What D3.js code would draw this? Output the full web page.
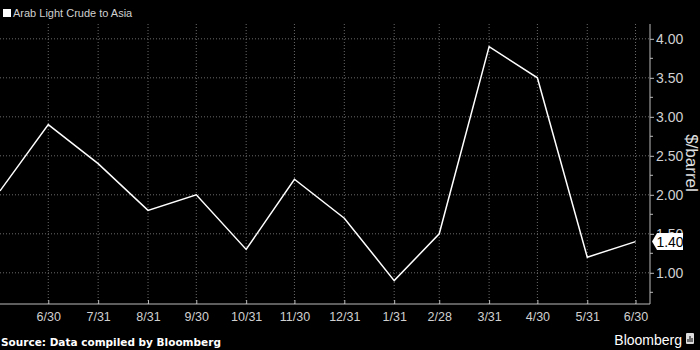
<!DOCTYPE html>
<html>
<head>
<meta charset="utf-8">
<script src="https://cdn.jsdelivr.net/npm/d3@7"></script>
<style>
  body { margin: 0; background: #000; }
  svg { display: block; background: #000; }
</style>
</head>
<body>
<div id="chart"></div>
<script>
// Arab Light crude OSP to Asia, monthly

const dates = ["2017-05-31", "2017-06-30", "2017-07-31", "2017-08-31", "2017-09-30", "2017-10-31",
    "2017-11-30", "2017-12-31", "2018-01-31", "2018-02-28", "2018-03-31", "2018-04-30",
    "2018-05-31", "2018-06-30"];
const prices = [2.05, 2.90, 2.40, 1.80, 2.00, 1.30, 2.20, 1.70, 0.90, 1.50, 3.90, 3.50, 1.20, 1.40];
const tickDates = dates.slice(1);
const yTicks = [1.00, 1.50, 2.00, 2.50, 3.00, 3.50, 4.00];
const seriesName = "Arab Light Crude to Asia";
const yTitle = "$/barrel";
const sourceText = "Source: Data compiled by Bloomberg";

const svgWidth = 700;
const svgHeight = 350;

const margin = { top: 24, right: 50, bottom: 46, left: 0 };
const width = svgWidth - margin.left - margin.right;
const height = svgHeight - margin.top - margin.bottom;

const parse = d3.utcParse("%Y-%m-%d");
const data = dates.map((d, i) => ({ date: parse(d), value: prices[i] }));

const svg = d3.select("#chart")
    .append("svg")
    .attr("width", svgWidth)
    .attr("height", svgHeight);

const chartGroup = svg.append("g")
    .attr("transform", `translate(${margin.left}, ${margin.top})`);

const x = d3.scaleUtc()
    .domain([parse("2017-05-31"), parse("2018-07-09")])
    .range([0, width]);

const y = d3.scaleLinear()
    .domain([0.6, 4.19])
    .range([height, 0]);

// grid
chartGroup.append("g")
    .selectAll("line")
    .data(yTicks)
    .enter()
    .append("line")
    .attr("x1", 0)
    .attr("x2", width)
    .attr("y1", d => y(d))
    .attr("y2", d => y(d))
    .attr("stroke", "#6a6a6a")
    .attr("stroke-dasharray", "1,2");

chartGroup.append("g")
    .selectAll("line")
    .data(tickDates)
    .enter()
    .append("line")
    .attr("x1", d => x(parse(d)))
    .attr("x2", d => x(parse(d)))
    .attr("y1", 0)
    .attr("y2", height)
    .attr("stroke", "#6a6a6a")
    .attr("stroke-dasharray", "1,2");

// x axis
const bottomAxis = d3.axisBottom(x)
    .tickValues(tickDates.map(parse))
    .tickFormat(d3.utcFormat("%-m/%-d"))
    .tickSize(-4)
    .tickPadding(8);

const xAxis = chartGroup.append("g")
    .attr("transform", `translate(0, ${height})`)
    .call(bottomAxis);

xAxis.select(".domain").attr("stroke", "#bbb").attr("d", `M0,0H${width}V${-height}`);

// y axis, right side
const minorTicks = d3.range(0.75, 4.2, 0.25).filter(v => !yTicks.includes(v));

chartGroup.append("g")
    .attr("transform", `translate(${width}, 0)`)
    .selectAll("line")
    .data(minorTicks)
    .enter()
    .append("line")
    .attr("x1", 0)
    .attr("x2", 3)
    .attr("y1", d => y(d))
    .attr("y2", d => y(d))
    .attr("stroke", "#bbb");

const rightAxis = d3.axisRight(y)
    .tickValues(yTicks)
    .tickFormat(d3.format(".2f"))
    .tickSize(4)
    .tickPadding(2);

const yAxis = chartGroup.append("g")
    .attr("transform", `translate(${width}, 0)`)
    .call(rightAxis);

yAxis.select(".domain").remove();

[xAxis, yAxis].forEach(a => {
    a.selectAll(".tick line").attr("stroke", "#bbb");
    a.selectAll("text")
        .attr("fill", "#d0d0d0")
        .attr("font-family", "Liberation Sans, Arial, sans-serif");
});
xAxis.selectAll("text").attr("font-size", 12.5);
yAxis.selectAll("text").attr("font-size", 14);

// y title
svg.append("text")
    .attr("transform", `translate(686, 163) rotate(90)`)
    .attr("text-anchor", "middle")
    .attr("fill", "#e0e0e0")
    .attr("font-family", "Liberation Sans, Arial, sans-serif")
    .attr("font-size", 17)
    .text(yTitle);

// line
const line = d3.line()
    .x(d => x(d.date))
    .y(d => y(d.value));

chartGroup.append("path")
    .datum(data)
    .attr("fill", "none")
    .attr("stroke", "#fff")
    .attr("stroke-width", 1.5)
    .attr("d", line);

// last value tag
const last = data[data.length - 1];
const ly = y(last.value);
const tag = chartGroup.append("g")
    .attr("transform", `translate(${width + 2}, ${ly})`);

tag.append("path")
    .attr("d", "M0,0L5,-8.5H31V8.5H5Z")
    .attr("fill", "#fff");

tag.append("text")
    .attr("x", 18)
    .attr("y", 5)
    .attr("text-anchor", "middle")
    .attr("fill", "#000")
    .attr("font-family", "Liberation Sans, Arial, sans-serif")
    .attr("font-size", 14)
    .text(d3.format(".2f")(last.value));

// legend
svg.append("rect")
    .attr("x", 3)
    .attr("y", 9)
    .attr("width", 8)
    .attr("height", 8)
    .attr("fill", "#fff");

svg.append("text")
    .attr("x", 13)
    .attr("y", 17)
    .attr("fill", "#d0d0d0")
    .attr("font-family", "Liberation Sans, Arial, sans-serif")
    .attr("font-size", 11)
    .text(seriesName);

// footer
svg.append("text")
    .attr("x", 1)
    .attr("y", 346)
    .attr("fill", "#fff")
    .attr("font-family", "DejaVu Sans, sans-serif")
    .attr("font-weight", "bold")
    .attr("font-size", 10.5)
    .text(sourceText);

svg.append("text")
    .attr("x", 682)
    .attr("y", 345)
    .attr("text-anchor", "end")
    .attr("fill", "#fff")
    .attr("font-family", "Liberation Sans, Arial, sans-serif")
    .attr("font-size", 14)
    .text("Bloomberg");

const logo = svg.append("g").attr("transform", "translate(686, 333)");
logo.append("rect")
    .attr("width", 8)
    .attr("height", 11)
    .attr("rx", 1)
    .attr("fill", "#ddd");
logo.selectAll("line.bar")
    .data([[2, 6], [4, 3], [6, 5]])
    .enter()
    .append("line")
    .attr("x1", d => d[0])
    .attr("x2", d => d[0])
    .attr("y1", d => d[1])
    .attr("y2", 9)
    .attr("stroke", "#000")
    .attr("stroke-width", 1);
</script>
</body>
</html>
